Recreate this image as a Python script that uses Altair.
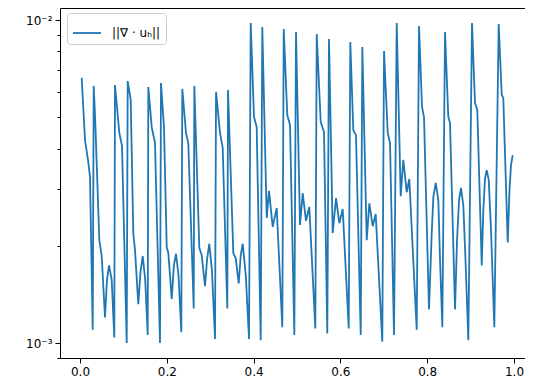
import altair as alt
import pandas as pd

# time values
t = [0.0039, 0.0115, 0.0191, 0.0230, 0.0293, 0.0316, 0.0353, 0.0445, 0.0500, 0.0576,
     0.0622, 0.0668, 0.0730, 0.0790, 0.0806, 0.0906, 0.0968, 0.1076, 0.1099, 0.1168,
     0.1228, 0.1267, 0.1343, 0.1394, 0.1445, 0.1502, 0.1560, 0.1574, 0.1652, 0.1728,
     0.1843, 0.1866, 0.1935, 0.1998, 0.2035, 0.2113, 0.2163, 0.2212, 0.2270, 0.2334,
     0.2357, 0.2442, 0.2495, 0.2620, 0.2634, 0.2749, 0.2804, 0.2880, 0.2930, 0.2979,
     0.3040, 0.3111, 0.3134, 0.3226, 0.3288, 0.3394, 0.3410, 0.3532, 0.3588, 0.3657,
     0.3703, 0.3749, 0.3820, 0.3894, 0.3933, 0.4009, 0.4071, 0.4164, 0.4200, 0.4302,
     0.4355, 0.4440, 0.4532, 0.4661, 0.4694, 0.4776, 0.4839, 0.4938, 0.4977, 0.5069,
     0.5131, 0.5207, 0.5283, 0.5422, 0.5454, 0.5546, 0.5622, 0.5698, 0.5737, 0.5822,
     0.5899, 0.5975, 0.6053, 0.6191, 0.6228, 0.6297, 0.6359, 0.6468, 0.6505, 0.6606,
     0.6666, 0.6744, 0.6813, 0.6965, 0.7005, 0.7090, 0.7143, 0.7235, 0.7297, 0.7389,
     0.7449, 0.7528, 0.7587, 0.7758, 0.7811, 0.7880, 0.7926, 0.8041, 0.8104, 0.8141,
     0.8196, 0.8256, 0.8295, 0.8348, 0.8410, 0.8486, 0.8525, 0.8641, 0.8687, 0.8733,
     0.8779, 0.8832, 0.8882, 0.8947, 0.9032, 0.9101, 0.9154, 0.9256, 0.9293, 0.9332,
     0.9371, 0.9417, 0.9470, 0.9546, 0.9647, 0.9717, 0.9753, 0.9855, 0.9896, 0.9931,
     0.9970]

# ||div u_h|| values
div_norm = [0.00663, 0.00425, 0.00363, 0.00327, 0.00110, 0.00625, 0.00480, 0.00208, 0.00186, 0.00120,
            0.00157, 0.00174, 0.00157, 0.00104, 0.00629, 0.00447, 0.00407, 0.00100, 0.00647, 0.00566,
            0.00219, 0.00194, 0.00132, 0.00166, 0.00186, 0.00157, 0.00106, 0.00620, 0.00466, 0.00416,
            0.00100, 0.00638, 0.00466, 0.00198, 0.00190, 0.00137, 0.00174, 0.00189, 0.00162, 0.00108,
            0.00612, 0.00447, 0.00416, 0.00128, 0.00625, 0.00197, 0.00187, 0.00150, 0.00183, 0.00203,
            0.00168, 0.00103, 0.00599, 0.00447, 0.00402, 0.00128, 0.00607, 0.00190, 0.00183, 0.00153,
            0.00187, 0.00203, 0.00162, 0.00103, 0.00979, 0.00501, 0.00466, 0.00102, 0.00951, 0.00244,
            0.00296, 0.00229, 0.00262, 0.00112, 0.00938, 0.00508, 0.00473, 0.00106, 0.00918, 0.00232,
            0.00291, 0.00239, 0.00264, 0.00111, 0.00905, 0.00483, 0.00450, 0.00107, 0.00873, 0.00219,
            0.00281, 0.00235, 0.00260, 0.00111, 0.00855, 0.00456, 0.00440, 0.00106, 0.00825, 0.00208,
            0.00271, 0.00230, 0.00251, 0.00101, 0.00802, 0.00447, 0.00416, 0.00106, 0.00979, 0.00285,
            0.00369, 0.00293, 0.00322, 0.00110, 0.00958, 0.00538, 0.00501, 0.00127, 0.00219, 0.00283,
            0.00313, 0.00277, 0.00181, 0.00112, 0.00918, 0.00501, 0.00480, 0.00127, 0.00208, 0.00277,
            0.00302, 0.00267, 0.00181, 0.00102, 0.00979, 0.00554, 0.00527, 0.00174, 0.00258, 0.00324,
            0.00343, 0.00320, 0.00224, 0.00112, 0.00972, 0.00586, 0.00574, 0.00205, 0.00298, 0.00356,
            0.00382]

series_name = "||∇ · uₕ||"
x_ticks = [0.0, 0.2, 0.4, 0.6, 0.8, 1.0]
y_major = [0.001, 0.01]
y_minor = [0.0009, 0.002, 0.003, 0.004, 0.005, 0.006, 0.007, 0.008, 0.009]

df = pd.DataFrame({"t": t, "v": div_norm, "series": [series_name] * len(t)})

x_scale = alt.Scale(domain=[-0.0461, 1.0253], nice=False, zero=False)
y_scale = alt.Scale(type="log", domain=[0.000899, 0.010894], nice=False)

y_axis = alt.Axis(values=y_minor + y_major, title=None, grid=False, domain=True,
                  labelExpr="datum.value == 0.01 ? '10⁻²' : (datum.value == 0.001 ? '10⁻³' : '')",
                  tickSize={"condition": {"test": "datum.value == 0.01 || datum.value == 0.001",
                                          "value": 5}, "value": 3},
                  labelPadding=3, minExtent=42, maxExtent=42)

line = alt.Chart(df).mark_line(strokeWidth=1.8, clip=True).encode(
    x=alt.X("t:Q", scale=x_scale,
            axis=alt.Axis(values=x_ticks, format=".1f", title=None, grid=False,
                          tickSize=5, labelPadding=3, domain=True)),
    y=alt.Y("v:Q", scale=y_scale, axis=y_axis),
    color=alt.Color("series:N", scale=alt.Scale(range=["#1f77b4"]),
                    legend=alt.Legend(title=None, orient="none", legendX=7, legendY=5,
                                      symbolType="stroke", symbolSize=784, symbolStrokeWidth=1.8,
                                      labelFontSize=12, labelOffset=10, padding=5,
                                      strokeColor="#cccccc", fillColor="white", cornerRadius=3))
)

top_spine = alt.Chart(df).mark_line(opacity=0).encode(
    x=alt.X("t:Q", scale=x_scale,
            axis=alt.Axis(orient="top", labels=False, ticks=False, domain=True,
                          title=None, grid=False)),
    y=alt.Y("v:Q", scale=y_scale, axis=y_axis)
)

chart = alt.layer(line, top_spine).resolve_axis(x="independent").properties(
    width=465, height=350,
    padding={"left": 10, "top": 0, "right": 0, "bottom": 0}
).configure_view(
    strokeWidth=0
).configure_axis(
    labelFont="DejaVu Sans", labelFontSize=12, labelColor="black",
    tickColor="black", tickWidth=1, domainColor="black", domainWidth=1
).configure_legend(
    labelFont="DejaVu Sans", labelColor="black"
)

chart.save("out.html", embed_options={"renderer": "svg", "actions": False})
